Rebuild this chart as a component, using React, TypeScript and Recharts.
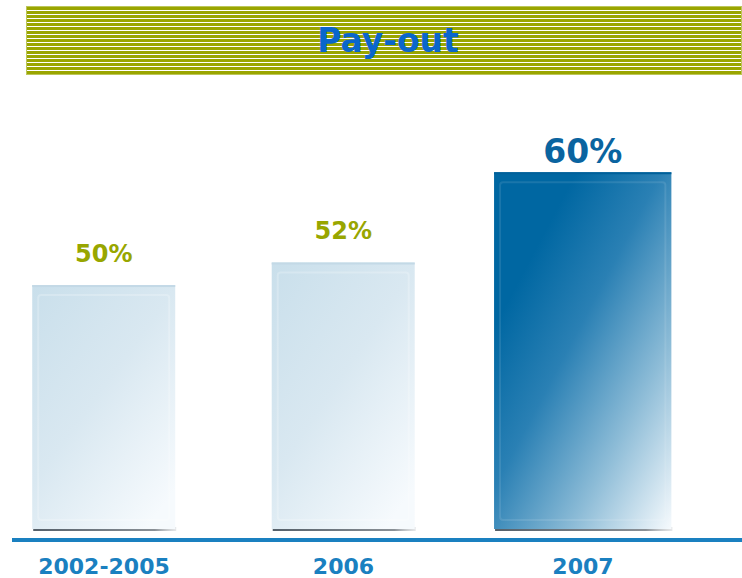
import React from 'react';
import { BarChart, Bar, XAxis, YAxis, LabelList } from 'recharts';

const categories = ['2002-2005', '2006', '2007'];
const payout = [50, 52, 60];
const valueLabels = ['50%', '52%', '60%'];
const highlightIndex = 2;

const data = categories.map((name, i) => ({
  idx: i,
  name,
  value: payout[i],
  label: valueLabels[i],
}));

const FONT = '"DejaVu Sans", "Noto Sans", sans-serif';

const BarShape = (props: any) => {
  const { x, y, width, height, index } = props;
  const hi = index === highlightIndex;
  const w = hi ? width * 1.24 : width;
  const bx = x + width / 2 - w / 2;
  const h = height - 10;
  if (h <= 0) return null;
  return (
    <g>
      <rect x={bx + 1} y={y + h - 3} width={w} height={4} fill="url(#shadowGrad)" />
      <rect x={bx} y={y} width={w} height={h - 1} fill={hi ? 'url(#darkGrad)' : 'url(#lightGrad)'} />
      <rect
        x={bx + 6}
        y={y + 10}
        width={w - 12}
        height={h - 20}
        fill="none"
        stroke="#ffffff"
        strokeOpacity={hi ? 0.1 : 0.22}
        strokeWidth={2}
        rx={3}
      />
      <rect x={bx} y={y} width={w} height={2} fill={hi ? '#00609a' : '#c3d9e6'} />
    </g>
  );
};

const ValueLabel = (props: any) => {
  const { x, y, width, index, value } = props;
  const hi = index === highlightIndex;
  return (
    <text
      x={x + width / 2}
      y={y - (hi ? 9 : 23)}
      textAnchor="middle"
      fontFamily={FONT}
      fontWeight="bold"
      fontSize={hi ? 33 : 24}
      fill={hi ? '#0a64a0' : '#98a600'}
    >
      {value}
    </text>
  );
};

const Tick = (props: any) => {
  const { x, y, payload } = props;
  return (
    <text
      x={x}
      y={y}
      dy={26}
      textAnchor="middle"
      fontFamily={FONT}
      fontWeight="bold"
      fontSize={22}
      fill="#1a80c0"
    >
      {categories[payload.value]}
    </text>
  );
};

const App: React.FC = () => {
  return (
    <div style={{ position: 'absolute', left: 0, top: 0, width: 742, height: 578, background: '#fff' }}>
      <div
        style={{
          position: 'absolute',
          left: 26,
          top: 6,
          width: 716,
          height: 69,
          border: '1px solid #bcc65a',
          background: 'repeating-linear-gradient(to bottom, #9aa500 0px, #9aa500 3px, #ffffff 3px, #ffffff 4px)',
          display: 'flex',
          alignItems: 'center',
          justifyContent: 'center',
          paddingLeft: 8,
          boxSizing: 'border-box',
          fontFamily: FONT,
          fontWeight: 'bold',
          fontSize: 33,
          color: '#0a66cc',
        }}
      >
        Pay-out
      </div>
      <BarChart
        width={742}
        height={578}
        data={data}
        margin={{ top: 82, right: 0, left: 12, bottom: 0 }}
      >
        <defs>
          <linearGradient id="lightGrad" x1="0" y1="0" x2="0.8" y2="1">
            <stop offset="0%" stopColor="#c9dfeb" />
            <stop offset="50%" stopColor="#d9e8f1" />
            <stop offset="100%" stopColor="#f6fafd" />
          </linearGradient>
          <linearGradient id="darkGrad" x1="0.25" y1="0.2" x2="1" y2="1">
            <stop offset="0%" stopColor="#0067a2" />
            <stop offset="30%" stopColor="#2a80b4" />
            <stop offset="65%" stopColor="#8dbcd7" />
            <stop offset="100%" stopColor="#f6fafd" />
          </linearGradient>
          <linearGradient id="shadowGrad" x1="0" y1="0" x2="1" y2="0">
            <stop offset="0%" stopColor="#55606a" />
            <stop offset="85%" stopColor="#8a9096" />
            <stop offset="100%" stopColor="#c0c4c8" stopOpacity={0.4} />
          </linearGradient>
        </defs>
        <XAxis
          dataKey="idx"
          type="number"
          domain={[-0.384, 2.664]}
          ticks={[0, 1, 2]}
          allowDataOverflow
          height={38}
          axisLine={{ stroke: '#1a80c0', strokeWidth: 4 }}
          tickLine={false}
          tick={<Tick />}
        />
        <YAxis hide domain={[27.4, 68]} allowDataOverflow />
        <Bar dataKey="value" barSize={143} shape={<BarShape />} isAnimationActive={false}>
          <LabelList dataKey="label" content={<ValueLabel />} />
        </Bar>
      </BarChart>
    </div>
  );
};

export default App;
